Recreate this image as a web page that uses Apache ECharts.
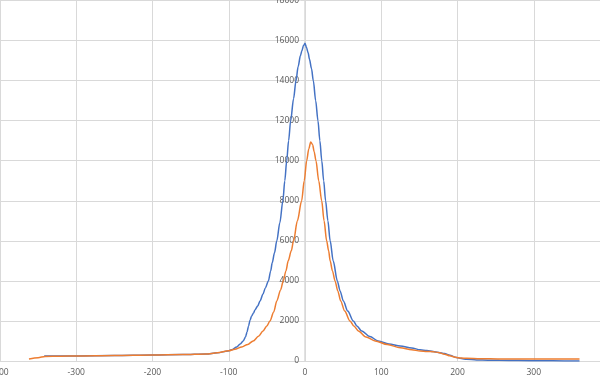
<!DOCTYPE html>
<html>
<head>
<meta charset="utf-8">
<script src="https://cdn.jsdelivr.net/npm/echarts@6/dist/echarts.min.js"></script>
<style>html,body{margin:0;padding:0;background:#fff}#c{width:600px;height:381px}</style>
</head>
<body>
<div id="c"></div>
<script>
// Series 1 (blue) x / y values
const blueX = [-342,-320,-300,-250,-200,-160,-130,-115,-101,-95,-89.6,-85,-81,-78,-76,-74,-72,-70,-67.5,-65.6,-62,-59,-55,-52,-48,-45,-43,-40,-37,-33,-29,-26.5,-24,-21.5,-18.8,-15,-11.8,-9,-6,-4,-2,0,2,4,6,8.5,10.9,14,17,19.5,22,24.5,27,30,33,37,42.4,46,50.3,56,63.4,68,74.4,85,96,110,125,140,151,160,168,175,183,190,197,205,212,225,240,255,280,310,340,360];
const blueY = [250,250,255,275,300,320,350,410,500,580,700,850,1000,1200,1450,1750,2050,2250,2400,2550,2750,3000,3350,3650,4000,4500,4900,5400,6000,6900,8000,9000,10000,11000,12000,13100,14000,14700,15250,15500,15750,15860,15650,15400,15050,14600,14000,13000,12000,11000,10000,9000,8000,7000,6000,5000,4000,3500,3000,2500,2000,1750,1500,1220,1000,850,750,650,560,520,470,430,370,290,190,120,85,55,40,35,20,10,5,5];
// Series 2 (orange) x / y values
const orangeX = [-362,-350,-341,-320,-300,-250,-200,-160,-130,-115,-100,-92,-83,-75,-68,-61,-55,-50,-46,-41,-37,-32,-28.5,-25,-22,-18,-15,-10,-4.4,-1,2.2,5,7.5,10,12,14.4,18,21.9,25,28.4,31,33,36,39.4,43,46.8,52,59,64,70,80,92,108,125,140,151,160,168,175,183,190,197,205,212,230,255,300,360];
const orangeY = [100,160,230,240,250,275,300,320,350,410,510,590,700,830,1000,1230,1500,1750,2000,2450,3000,3550,4000,4500,5000,5500,6000,7000,8000,9000,10000,10600,10940,10800,10450,10000,9000,8000,7000,6000,5500,5000,4500,4000,3500,3000,2500,2000,1750,1500,1200,1000,820,665,560,500,480,465,420,340,260,185,150,135,115,100,100,100];

const xTicks = {min:-400, max:400, interval:100};
const yTicks = {min:0, max:18000, interval:2000};

const blueData = blueX.map((x,i)=>[x, blueY[i]]);
const orangeData = orangeX.map((x,i)=>[x, orangeY[i]]);

const chart = echarts.init(document.getElementById('c'), null, {renderer:'canvas'});
const gridCol = '#d9d9d9';
const labCol = '#595959';
const W = 600, gridLeft = 0, gridRight = -10;
const plotW = W - gridLeft - gridRight;
const zeroOffset = -plotW * (0 - xTicks.min) / (xTicks.max - xTicks.min);
const plain = v => String(v);
chart.setOption({
  animation:false,
  backgroundColor:'#ffffff',
  grid:{left:gridLeft, right:gridRight, top:0.5, bottom:20, outerBoundsMode:'none', containLabel:false},
  xAxis:{type:'value', min:xTicks.min, max:xTicks.max, interval:xTicks.interval,
    axisLine:{show:true, onZero:false, lineStyle:{color:gridCol, width:1}},
    axisTick:{show:false},
    axisLabel:{color:labCol, fontSize:8.5, fontFamily:'Open Sans', margin:7, showMinLabel:true, hideOverlap:false, formatter:plain},
    splitLine:{show:true, lineStyle:{color:gridCol, width:1}}},
  yAxis:{type:'value', position:'left', offset:zeroOffset, min:yTicks.min, max:yTicks.max, interval:yTicks.interval,
    axisLine:{show:true, onZero:false, lineStyle:{color:gridCol, width:1.5}},
    axisTick:{show:false},
    axisLabel:{color:labCol, fontSize:8.5, fontFamily:'Open Sans', margin:6, showMaxLabel:true, formatter:plain},
    splitLine:{show:true, lineStyle:{color:gridCol, width:1}}},
  series:[
    {type:'line', data:blueData, showSymbol:false, smooth:0.3, smoothMonotone:'x',
      lineStyle:{color:'#4472C4', width:1.5}, itemStyle:{color:'#4472C4'}, z:3},
    {type:'line', data:orangeData, showSymbol:false, smooth:0.3, smoothMonotone:'x',
      lineStyle:{color:'#ED7D31', width:1.5}, itemStyle:{color:'#ED7D31'}, z:4}
  ]
});
</script>
</body>
</html>
